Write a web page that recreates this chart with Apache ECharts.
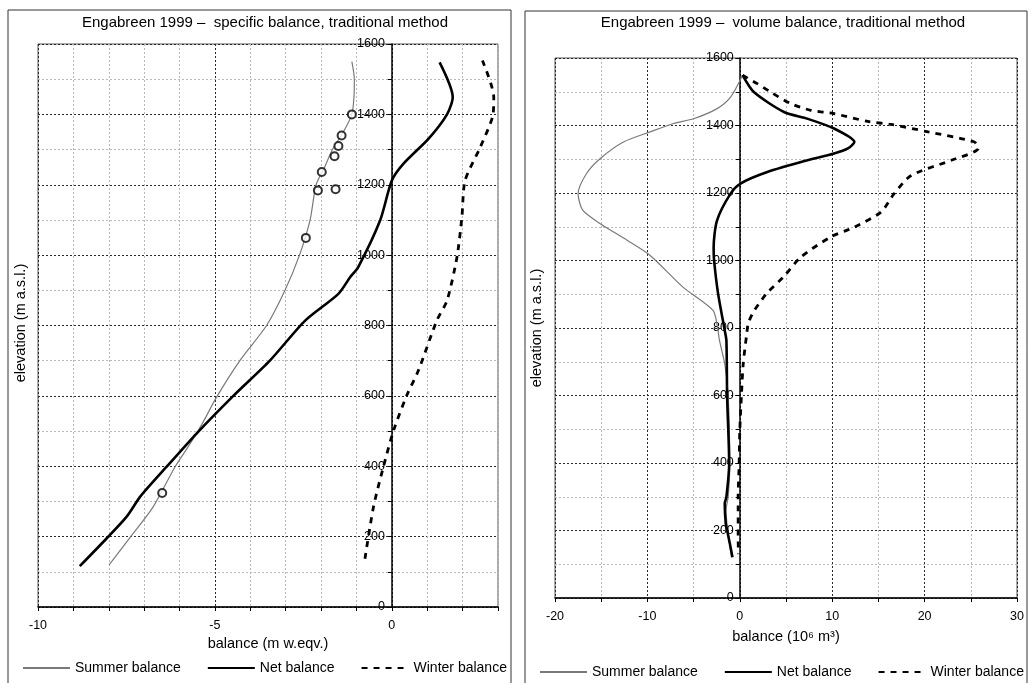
<!DOCTYPE html>
<html>
<head>
<meta charset="utf-8">
<script src="https://cdn.jsdelivr.net/npm/echarts@6/dist/echarts.min.js"></script>
<style>
html,body{margin:0;padding:0;background:#fff;}
#c{width:1032px;height:683px;}
</style>
</head>
<body>
<div id="c"></div>
<script>
// ---------- data (balance value, elevation m a.s.l.) ----------
const seriesNames = ['Summer balance', 'Net balance', 'Winter balance'];

const leftTitle = 'Engabreen 1999 –  specific balance, traditional method';
const rightTitle = 'Engabreen 1999 –  volume balance, traditional method';

const leftXTicks = [-10, -5, 0];
const rightXTicks = [-20, -10, 0, 10, 20, 30];
const yTicks = [0, 200, 400, 600, 800, 1000, 1200, 1400, 1600];

const specificSummer = [[-7.99,120],[-7.38,200],[-6.75,284],[-6.13,398],[-5.76,455],[-5.47,502],[-5.33,526],[-4.95,597],[-4.29,701],[-3.54,800],[-3.02,900],[-2.61,1000],[-2.31,1100],[-2.14,1200],[-1.9,1250],[-1.68,1300],[-1.37,1350],[-1.13,1400],[-1.07,1450],[-1.06,1500],[-1.13,1550]];
const specificNet = [[-8.82,116],[-8.07,194],[-7.5,256],[-7.1,315],[-6.37,398],[-5.52,493],[-4.48,600],[-3.44,701],[-2.45,814],[-1.51,890],[-1.18,937],[-0.95,966],[-0.33,1099],[0,1212],[0.33,1260],[1.04,1331],[1.56,1400],[1.72,1449],[1.35,1548]];
const specificWinter = [[-0.76,137],[-0.52,284],[-0.24,398],[0.05,502],[0.42,601],[0.75,672],[1.27,814],[1.56,871],[1.84,994],[1.98,1108],[2.07,1212],[2.5,1307],[2.86,1400],[2.88,1449],[2.56,1553]];
const specificObserved = [[-1.13,1400],[-1.42,1340],[-1.51,1310],[-1.62,1281],[-1.98,1236],[-2.09,1184],[-1.59,1187],[-2.43,1049],[-6.49,324]];

const volumeSummer = [[0.3,1549],[-1.0,1484],[-2.46,1450],[-5.0,1420],[-7.17,1406],[-9.71,1381],[-12.6,1351],[-15.1,1302],[-16.6,1257],[-17.5,1198],[-17.0,1149],[-15.1,1109],[-12.2,1060],[-9.7,1015],[-6.15,921],[-2.9,852],[-2.4,800],[-2.2,763],[-1.63,694],[-1.26,601],[-1.09,398],[-1.26,299],[-1.5,260],[-1.3,200],[-0.9,120]];
const volumeNet = [[0.3,1549],[1.52,1499],[4.78,1440],[7.33,1420],[10.2,1391],[12.4,1351],[11.7,1332],[10.2,1317],[7.33,1297],[2.98,1262],[0.08,1228],[-1.0,1198],[-2.46,1119],[-2.83,1040],[-2.78,1000],[-2.35,902],[-1.63,793],[-1.45,763],[-1.37,596],[-1.15,398],[-1.45,299],[-1.63,280],[-1.52,220],[-1.37,201],[-0.79,121]];
const volumeWinter = [[0.3,1549],[1.89,1524],[3.34,1499],[5.5,1465],[7.68,1445],[10.2,1435],[13.85,1412],[16.4,1403],[20.4,1381],[25.4,1351],[25.8,1332],[22.9,1297],[18.55,1252],[16.7,1198],[15.3,1144],[12.4,1099],[9.86,1070],[6.6,1010],[4.72,951],[2.9,902],[1.46,847],[0.91,813],[0.73,778],[0.37,694],[0.18,601],[0,497],[-0.07,398],[-0.18,299],[-0.18,181],[-0.15,130]];

// ---------- chart ----------
const FONT = 'Liberation Sans, Arial, sans-serif';
const DARK = '#2a2a2a', LIGHT = '#b8b8b8';
const G1 = {left: 38, top: 44, width: 460, height: 563, xMin: -10, xMax: 3};
const G2 = {left: 555, top: 58, width: 462, height: 540, xMin: -20, xMax: 30};

function xAxisDef(idx, g, interval, ticks, name, colors, nameGap) {
  return {
    gridIndex: idx, type: 'value', min: g.xMin, max: g.xMax, interval: interval,
    name: name, nameLocation: 'middle', nameGap: nameGap,
    nameTextStyle: {fontSize: 14.5, color: '#000', fontFamily: FONT},
    axisLine: {lineStyle: {color: '#000', width: 1.5}},
    axisTick: {show: true, length: 4, lineStyle: {color: '#000'}},
    axisLabel: {color: '#000', fontSize: 12.5, fontFamily: FONT, margin: 12,
      formatter: v => ticks.includes(v) ? String(v) : ''},
    splitLine: {show: true, lineStyle: {color: colors, type: [2, 2], width: 1}}
  };
}
function yAxisDef(idx, g, margin) {
  // place the vertical axis at balance = 0
  const zeroOffset = g.width * (0 - g.xMin) / (g.xMax - g.xMin);
  return {
    gridIndex: idx, type: 'value', min: 0, max: 1600, interval: 100,
    position: 'left', offset: -zeroOffset,
    axisLine: {onZero: false, lineStyle: {color: '#000', width: 1.5}},
    axisTick: {show: true, length: 4, lineStyle: {color: '#000'}},
    axisLabel: {color: '#000', fontSize: 12.5, fontFamily: FONT, margin: margin,
      formatter: v => yTicks.includes(v) ? String(v) : ''},
    splitLine: {show: true, lineStyle: {color: [DARK, LIGHT], type: [2, 2], width: 1}}
  };
}
function lineSeries(name, idx, data, kind) {
  const s = {name: name, type: 'line', xAxisIndex: idx, yAxisIndex: idx, data: data,
    symbol: 'none', smooth: 0.25, z: 3};
  if (kind === 'summer') { s.lineStyle = {color: '#7a7a7a', width: 1.2}; s.itemStyle = {color: '#7a7a7a'}; }
  if (kind === 'net') { s.lineStyle = {color: '#000', width: 2.6}; s.itemStyle = {color: '#000'}; }
  if (kind === 'winter') { s.lineStyle = {color: '#000', width: 2.8, type: [6, 6]}; s.itemStyle = {color: '#000'}; }
  return s;
}
function legendDef(left, top) {
  return {data: seriesNames, left: left, top: top, width: 520, itemWidth: 47, itemHeight: 12, itemGap: 26,
    padding: 0, selectedMode: false,
    itemStyle: {color: 'rgba(0,0,0,0)', borderColor: 'rgba(0,0,0,0)', borderWidth: 0, opacity: 0},
    textStyle: {fontSize: 14, color: '#000', fontFamily: FONT}};
}

const chart = echarts.init(document.getElementById('c'), null, {renderer: 'canvas'});
chart.setOption({
  animation: false,
  backgroundColor: '#fff',
  textStyle: {fontFamily: FONT},
  title: [
    {text: leftTitle, left: 265, top: 15, textAlign: 'center', padding: 0,
      textStyle: {fontSize: 15, fontWeight: 'normal', color: '#000', fontFamily: FONT}},
    {text: rightTitle, left: 783, top: 15, textAlign: 'center', padding: 0,
      textStyle: {fontSize: 15, fontWeight: 'normal', color: '#000', fontFamily: FONT}}
  ],
  legend: [legendDef(22, 661), legendDef(539, 665)],
  grid: [
    {left: G1.left, top: G1.top, width: G1.width, height: G1.height, show: true, borderColor: '#555', borderWidth: 1},
    {left: G2.left, top: G2.top, width: G2.width, height: G2.height, show: true, borderColor: '#555', borderWidth: 1}
  ],
  xAxis: [
    xAxisDef(0, G1, 1, leftXTicks, 'balance (m w.eqv.)', [DARK, LIGHT, LIGHT, LIGHT, LIGHT], 26),
    xAxisDef(1, G2, 5, rightXTicks, 'balance (10\u2076 m\u00B3)', [DARK, LIGHT], 31)
  ],
  yAxis: [yAxisDef(0, G1, 7), yAxisDef(1, G2, 6)],
  graphic: [
    {type: 'rect', silent: true, z: -1, shape: {x: 8, y: 10, width: 503, height: 700},
      style: {fill: 'none', stroke: '#333', lineWidth: 1}},
    {type: 'rect', silent: true, z: -1, shape: {x: 525, y: 11, width: 502, height: 700},
      style: {fill: 'none', stroke: '#333', lineWidth: 1}},
    {type: 'text', x: 21, y: 323, rotation: Math.PI / 2, silent: true,
      style: {text: 'elevation (m a.s.l.)', fontSize: 14.5, fontFamily: FONT, fill: '#000', align: 'center', verticalAlign: 'middle'}},
    {type: 'text', x: 537, y: 328, rotation: Math.PI / 2, silent: true,
      style: {text: 'elevation (m a.s.l.)', fontSize: 14.5, fontFamily: FONT, fill: '#000', align: 'center', verticalAlign: 'middle'}}
  ],
  series: [
    lineSeries(seriesNames[0], 0, specificSummer, 'summer'),
    lineSeries(seriesNames[1], 0, specificNet, 'net'),
    lineSeries(seriesNames[2], 0, specificWinter, 'winter'),
    {name: 'Observed', type: 'scatter', xAxisIndex: 0, yAxisIndex: 0, data: specificObserved,
      symbol: 'emptyCircle', symbolSize: 8, itemStyle: {color: '#000', borderWidth: 1.3}, z: 4},
    lineSeries(seriesNames[0], 1, volumeSummer, 'summer'),
    lineSeries(seriesNames[1], 1, volumeNet, 'net'),
    lineSeries(seriesNames[2], 1, volumeWinter, 'winter')
  ]
});
</script>
</body>
</html>
